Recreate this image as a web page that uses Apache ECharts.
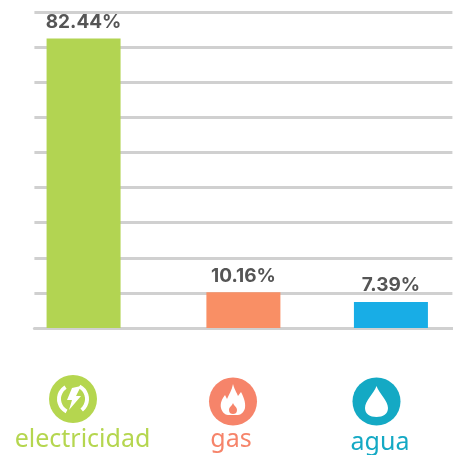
<!DOCTYPE html>
<html><head><meta charset="utf-8">
<style>html,body{margin:0;padding:0;background:#fff}#c{width:453px;height:455px}</style>
<script src="https://cdn.jsdelivr.net/npm/echarts@6/dist/echarts.min.js"></script>
</head><body><div id="c"></div>
<script>
const categories = ['electricidad', 'gas', 'agua'];
const shares = [82.44, 10.16, 7.39];
const barColors = ['#b2d452', '#f98f65', '#18ade6'];
const iconColors = ['#b5d64f', '#f6846a', '#14a9c4'];

// layout: bars sit unevenly, so the category axis has fine slots
const slots = [4, 17, 29], slotCount = 35;
const axisCats = [], axisData = [];
for (let i = 0; i < slotCount; i++) {
  const k = slots.indexOf(i);
  axisCats.push(k >= 0 ? categories[k] : '');
  axisData.push(k >= 0 ? { value: shares[k], itemStyle: { color: barColors[k] } } : null);
}
const font = '"Noto Sans"';
const reg = (name, d) => echarts.graphic.registerShape(name, echarts.graphic.extendPath(d, {}));
reg('iconBolt', 'M72 388 L81 386 L76 396 L81 396 L69 410 L72 400 L67 400 Z');
reg('iconFlame', 'M233 384 C235 391 237 393 238 396 L241 392 C243 396 246 402 245 408 C244 412 241 415 238 415 L228 415 C225 415 222 412 221 408 C220 403 222 399 225 395 L227 399 C229 394 232 390 233 384 Z');
reg('iconEmber', 'M233 403 C234 406 237 407 237 410 C237 413 235 414 233 414 C231 414 229 413 229 410 C229 407 232 406 233 403 Z');
reg('iconDrop', 'M376.5 386 C379 393 388 401 388 408 C388 414 383 417 376.5 417 C370 417 365 414 365 408 C365 401 374 393 376.5 386 Z');
const names = [
  { x: 82.5, y: 440 }, { x: 231, y: 440 }, { x: 380, y: 442.5 }
].map((p, i) => ({
  type: 'text', x: p.x, y: p.y,
  style: { text: categories[i], fill: iconColors[i], font: '25px ' + font, align: 'center', verticalAlign: 'middle' }
}));
const icons = [
  { type: 'circle', shape: { cx: 73, cy: 399, r: 24 }, style: { fill: iconColors[0] } },
  { type: 'arc', shape: { cx: 73, cy: 399, r: 14, startAngle: -1.1, endAngle: 0.9, clockwise: true }, style: { fill: null, stroke: '#fff', lineWidth: 4 } },
  { type: 'arc', shape: { cx: 73, cy: 399, r: 14, startAngle: 2.05, endAngle: 4.15, clockwise: true }, style: { fill: null, stroke: '#fff', lineWidth: 4 } },
  { type: 'iconBolt', style: { fill: '#fff' } },
  { type: 'circle', shape: { cx: 233, cy: 401.5, r: 24 }, style: { fill: iconColors[1] } },
  { type: 'iconFlame', style: { fill: '#fff' } },
  { type: 'iconEmber', style: { fill: iconColors[1] } },
  { type: 'circle', shape: { cx: 376.5, cy: 401.5, r: 24 }, style: { fill: iconColors[2] } },
  { type: 'iconDrop', style: { fill: '#fff' } }
];
const chart = echarts.init(document.getElementById('c'), null, { renderer: 'canvas' });
chart.setOption({
  animation: false,
  backgroundColor: '#fff',
  grid: { left: 34.4, right: 0.6, top: 12, bottom: 127 },
  xAxis: {
    type: 'category', data: axisCats, boundaryGap: false,
    axisLine: { show: true, lineStyle: { color: '#d0d0d0', width: 3 } },
    axisTick: { show: false }, axisLabel: { show: false }, splitLine: { show: false }
  },
  yAxis: {
    type: 'value', min: 0, max: 90, interval: 10,
    axisLine: { show: false }, axisTick: { show: false }, axisLabel: { show: false },
    splitLine: { show: true, lineStyle: { color: '#d0d0d0', width: 3 } }
  },
  series: [{
    type: 'bar', data: axisData, barWidth: 74,
    label: {
      show: true, position: 'top', distance: 7, color: '#555',
      fontFamily: 'Inter', fontWeight: 700, fontSize: 19,
      formatter: p => p.value.toFixed(2) + '%'
    }
  }],
  graphic: { elements: icons.concat(names) }
});
</script></body></html>
